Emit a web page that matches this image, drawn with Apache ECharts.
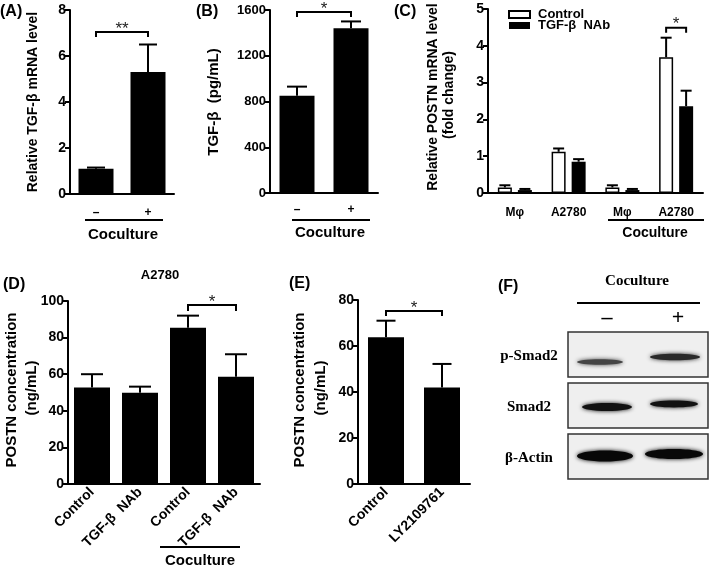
<!DOCTYPE html>
<html><head><meta charset="utf-8">
<script src="https://cdn.jsdelivr.net/npm/echarts@6/dist/echarts.min.js"></script>
<style>html,body{margin:0;padding:0;background:#fff}#main{width:709px;height:566px}</style>
</head><body><div id="main"></div>
<script>
// ---------- data ----------
var catA = ['–', '+'];
var valA = [1.1, 5.3];
var errA = [0.05, 1.2];
var sigA = ['**'];

var catB = ['–', '+'];
var valB = [850, 1440];
var errB = [80, 60];
var sigB = ['*'];

var catC = ['Mφ', 'A2780', 'Mφ', 'A2780'];
var seriesNamesC = ['Control', 'TGF-β  NAb'];
var ctrlC = [0.15, 1.12, 0.15, 3.69];
var ctrlErrC = [0.06, 0.09, 0.06, 0.53];
var nabC = [0.08, 0.85, 0.08, 2.36];
var nabErrC = [0.03, 0.07, 0.03, 0.42];
var sigC = ['*'];

var catD = ['Control', 'TGF-β  NAb', 'Control', 'TGF-β  NAb'];
var valD = [52.8, 49.9, 85.4, 58.6];
var errD = [7.2, 3.3, 6.6, 12.3];
var sigD = ['*'];

var catE = ['Control', 'LY2109761'];
var valE = [63.8, 42.0];
var errE = [7.2, 10.2];
var sigE = ['*'];

var blotRows = ['p-Smad2', 'Smad2', 'β-Actin'];
var blotLanes = ['–', '+'];

// ---------- helpers ----------
var FONT = 'Liberation Sans, Arial, sans-serif';
var SERIF = 'Liberation Serif, Times New Roman, serif';

function errData(vals, errs) { return vals.map(function (v, i) { return [i, v, errs[i]]; }); }
function errRender(offset, capW) {
  return function (params, api) {
    var x = api.value(0), v = api.value(1), e = api.value(2);
    var p0 = api.coord([x, v]), p1 = api.coord([x, v + e]);
    var cx = p0[0] + offset;
    return { type: 'group', children: [
      { type: 'line', shape: { x1: cx, y1: p0[1], x2: cx, y2: p1[1] }, style: { stroke: '#000', lineWidth: 2 } },
      { type: 'line', shape: { x1: cx - capW / 2, y1: p1[1], x2: cx + capW / 2, y2: p1[1] }, style: { stroke: '#000', lineWidth: 2 } }
    ] };
  };
}
function bracketRender(labels, drop) {
  return function (params, api) {
    var a = api.coord([api.value(0), api.value(4)]);
    var b = api.coord([api.value(2), api.value(4)]);
    var x1 = a[0] + api.value(1), x2 = b[0] + api.value(3), y = a[1];
    return { type: 'group', children: [
      { type: 'polyline', shape: { points: [[x1, y + drop], [x1, y], [x2, y], [x2, y + drop]] }, style: { stroke: '#000', lineWidth: 2, fill: null } },
      { type: 'text', x: (x1 + x2) / 2, y: y - 3, style: { text: labels[params.dataIndex], fill: '#222', fontSize: 17, fontFamily: FONT, align: 'center', verticalAlign: 'middle' } }
    ] };
  };
}
function xAx(gi, data, labelOpt) {
  return { type: 'category', gridIndex: gi, data: data,
    axisLine: { lineStyle: { color: '#000', width: 2 } },
    axisTick: { alignWithLabel: true, length: 5, lineStyle: { color: '#000', width: 2 } },
    axisLabel: Object.assign({ color: '#000', fontWeight: 'bold', fontFamily: FONT, interval: 0 }, labelOpt) };
}
function yAx(gi, max, interval, fs) {
  return { type: 'value', gridIndex: gi, min: 0, max: max, interval: interval,
    axisLine: { show: true, lineStyle: { color: '#000', width: 2 } },
    axisTick: { show: true, length: 5, lineStyle: { color: '#000', width: 2 } },
    splitLine: { show: false },
    axisLabel: { color: '#000', fontWeight: 'bold', fontFamily: FONT, fontSize: fs || 14, margin: 4,
      formatter: function (v) { return String(v); } } };
}
function txt(s, x, y, size, opt) {
  opt = opt || {};
  return { type: 'text', x: x, y: y, rotation: opt.rot || 0, z: 10,
    style: { text: s, fill: '#000', fontSize: size, fontWeight: 'bold', fontFamily: opt.serif ? SERIF : FONT,
      align: opt.align || 'center', verticalAlign: 'middle' } };
}
function hline(x1, x2, y) {
  return { type: 'line', z: 10, shape: { x1: x1, y1: y, x2: x2, y2: y }, style: { stroke: '#000', lineWidth: 2 } };
}

// ---------- western blot (panel F) ----------
var blot = [];
var boxX = 568, boxW = 140, boxH = 45, boxTops = [332, 383, 434];
var bands = [ // per row: [lane-, lane+] : [cx, cy offset, rx, ry, colour]
  [[600, 30, 23, 2.8, '#444'], [675, 25, 25, 3.2, '#2a2a2a']],
  [[607, 24, 25, 4, '#111'], [674, 21, 24, 3.4, '#111']],
  [[605, 22, 28, 5.5, '#080808'], [674, 20, 29, 5, '#080808']]
];
blotRows.forEach(function (r, i) {
  var top = boxTops[i];
  blot.push({ type: 'rect', z: 5, shape: { x: boxX, y: top, width: boxW, height: boxH },
    style: { fill: '#efefef', stroke: '#333', lineWidth: 1.5 } });
  bands[i].forEach(function (b) {
    blot.push({ type: 'ellipse', z: 6, shape: { cx: b[0], cy: top + b[1], rx: b[2], ry: b[3] },
      style: { fill: b[4], shadowBlur: 4, shadowColor: b[4] } });
  });
  blot.push(txt(r, 529, top + 24, 15, { serif: true }));
});
blot.push(txt(blotLanes[0], 607, 318, 22, { serif: true }));
blot.push(txt(blotLanes[1], 678, 318, 22, { serif: true }));
blot.push(hline(577, 700, 303));
blot.push(txt('Coculture', 637, 281, 15, { serif: true }));

// ---------- option ----------
var option = {
  animation: false,
  backgroundColor: '#fff',
  grid: [
    { left: 70, top: 10, width: 104, height: 184 },
    { left: 270, top: 10, width: 108, height: 183 },
    { left: 488, top: 9, width: 215, height: 184 },
    { left: 68, top: 301, width: 192, height: 183 },
    { left: 358, top: 300, width: 112, height: 184 }
  ],
  legend: {
    left: 503, top: 3, orient: 'vertical', icon: 'rect', itemWidth: 21, itemHeight: 7, itemGap: -2,
    selectedMode: false, data: seriesNamesC,
    textStyle: { color: '#000', fontWeight: 'bold', fontFamily: FONT, fontSize: 13, padding: [0, 0, 0, 3] }
  },
  xAxis: [
    xAx(0, catA, { fontSize: 12, margin: 13 }),
    xAx(1, catB, { fontSize: 12, margin: 11 }),
    xAx(2, catC, { fontSize: 12, margin: 14 }),
    xAx(3, catD, { fontSize: 14, rotate: 45, margin: 6 }),
    xAx(4, catE, { fontSize: 14, rotate: 45, margin: 6 })
  ],
  yAxis: [
    yAx(0, 8, 2), yAx(1, 1600, 400, 13), yAx(2, 5, 1), yAx(3, 100, 20), yAx(4, 80, 20)
  ],
  series: [
    { type: 'bar', xAxisIndex: 0, yAxisIndex: 0, data: valA, barWidth: 35, itemStyle: { color: '#000' } },
    { type: 'custom', xAxisIndex: 0, yAxisIndex: 0, z: 3, data: errData(valA, errA), renderItem: errRender(0, 18) },
    { type: 'custom', xAxisIndex: 0, yAxisIndex: 0, z: 3, data: [[0, 0, 1, 0, 7.04]], renderItem: bracketRender(sigA, 5) },

    { type: 'bar', xAxisIndex: 1, yAxisIndex: 1, data: valB, barWidth: 35, itemStyle: { color: '#000' } },
    { type: 'custom', xAxisIndex: 1, yAxisIndex: 1, z: 3, data: errData(valB, errB), renderItem: errRender(0, 20) },
    { type: 'custom', xAxisIndex: 1, yAxisIndex: 1, z: 3, data: [[0, 0, 1, 0, 1582]], renderItem: bracketRender(sigB, 5) },

    { name: seriesNamesC[0], type: 'bar', xAxisIndex: 2, yAxisIndex: 2, data: ctrlC, barWidth: 14, barGap: '43%',
      itemStyle: { color: '#fff', borderColor: '#000', borderWidth: 1.5 } },
    { name: seriesNamesC[1], type: 'bar', xAxisIndex: 2, yAxisIndex: 2, data: nabC, barWidth: 14, barGap: '43%',
      itemStyle: { color: '#000' } },
    { type: 'custom', xAxisIndex: 2, yAxisIndex: 2, z: 3, data: errData(ctrlC, ctrlErrC), renderItem: errRender(-10, 11) },
    { type: 'custom', xAxisIndex: 2, yAxisIndex: 2, z: 3, data: errData(nabC, nabErrC), renderItem: errRender(10, 11) },
    { type: 'custom', xAxisIndex: 2, yAxisIndex: 2, z: 3, data: [[3, -10, 3, 10, 4.49]], renderItem: bracketRender(sigC, 5) },

    { type: 'bar', xAxisIndex: 3, yAxisIndex: 3, data: valD, barWidth: 36, itemStyle: { color: '#000' } },
    { type: 'custom', xAxisIndex: 3, yAxisIndex: 3, z: 3, data: errData(valD, errD), renderItem: errRender(0, 22) },
    { type: 'custom', xAxisIndex: 3, yAxisIndex: 3, z: 3, data: [[2, 0, 3, 0, 97.8]], renderItem: bracketRender(sigD, 6) },

    { type: 'bar', xAxisIndex: 4, yAxisIndex: 4, data: valE, barWidth: 36, itemStyle: { color: '#000' } },
    { type: 'custom', xAxisIndex: 4, yAxisIndex: 4, z: 3, data: errData(valE, errE), renderItem: errRender(0, 19) },
    { type: 'custom', xAxisIndex: 4, yAxisIndex: 4, z: 3, data: [[0, 0, 1, 0, 75.2]], renderItem: bracketRender(sigE, 5) }
  ],
  graphic: [
    // panel letters
    txt('(A)', 0, 12, 16, { align: 'left' }),
    txt('(B)', 196, 12, 16, { align: 'left' }),
    txt('(C)', 394, 12, 16, { align: 'left' }),
    txt('(D)', 3, 285, 16, { align: 'left' }),
    txt('(E)', 289, 284, 16, { align: 'left' }),
    txt('(F)', 498, 287, 16, { align: 'left' }),
    // y-axis titles
    txt('Relative TGF-β mRNA level', 33, 102, 14, { rot: Math.PI / 2 }),
    txt('TGF-β  (pg/mL)', 214, 102, 15, { rot: Math.PI / 2 }),
    txt('Relative POSTN mRNA level', 433, 97, 14, { rot: Math.PI / 2 }),
    txt('(fold change)', 449, 95, 14, { rot: Math.PI / 2 }),
    txt('POSTN concentration', 12, 390, 15, { rot: Math.PI / 2 }),
    txt('(ng/mL)', 32, 388, 15, { rot: Math.PI / 2 }),
    txt('POSTN concentration', 300, 390, 15, { rot: Math.PI / 2 }),
    txt('(ng/mL)', 321, 388, 15, { rot: Math.PI / 2 }),
    // group annotations
    hline(85, 163, 220), txt('Coculture', 123, 235, 15),
    hline(292, 370, 220), txt('Coculture', 330, 233, 15),
    hline(608, 704, 220), txt('Coculture', 655, 233, 14),
    txt('A2780', 160, 275, 13),
    hline(160, 240, 547), txt('Coculture', 200, 561, 15)
  ].concat(blot)
};
var chart = echarts.init(document.getElementById('main'));
chart.setOption(option);
</script></body></html>
